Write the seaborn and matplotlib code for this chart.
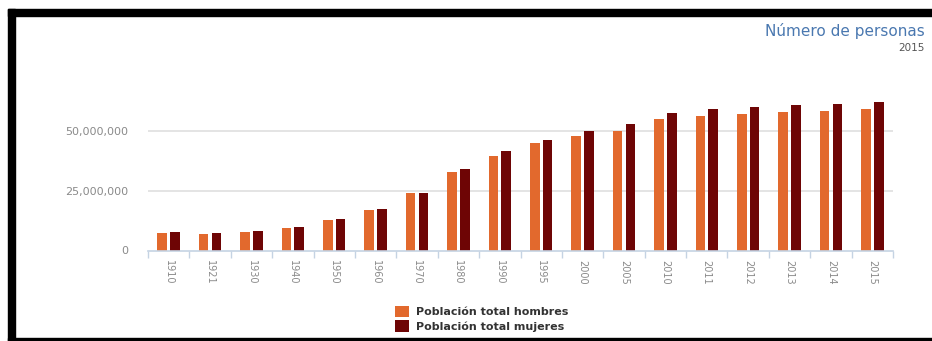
import matplotlib
matplotlib.use("Agg")
import matplotlib.pyplot as plt
from matplotlib.patches import Rectangle
from matplotlib.ticker import FixedLocator, FuncFormatter
import seaborn as sns
import pandas as pd

# ---- data ----
years = ["1910", "1921", "1930", "1940", "1950", "1960", "1970", "1980", "1990",
         "1995", "2000", "2005", "2010", "2011", "2012", "2013", "2014", "2015"]
hombres = [7_400_000, 6_800_000, 7_700_000, 9_500_000, 12_600_000, 17_000_000,
           23_800_000, 32_600_000, 39_500_000, 44_800_000, 47_600_000, 49_900_000,
           54_800_000, 56_200_000, 57_000_000, 57_600_000, 58_300_000, 59_000_000]
mujeres = [7_600_000, 7_200_000, 8_100_000, 9_900_000, 13_000_000, 17_400_000,
           24_000_000, 33_800_000, 41_500_000, 46_200_000, 49_700_000, 52_800_000,
           57_400_000, 59_000_000, 59_700_000, 60_500_000, 61_200_000, 61_700_000]
series_names = ["Población total hombres", "Población total mujeres"]
y_ticks = [0, 25_000_000, 50_000_000]
title_text = "Número de personas"
subtitle_text = "2015"

df = pd.DataFrame({
    "año": years * 2,
    "valor": hombres + mujeres,
    "serie": [series_names[0]] * len(years) + [series_names[1]] * len(years),
})

sns.set_theme(style="white")
plt.rcParams["font.family"] = ["DejaVu Sans"]

W, H = 932, 341
fig = plt.figure(figsize=(W / 100, H / 100), dpi=100)
ax = fig.add_axes([148 / W, 1 - 250.5 / H, (893 - 148) / W, (250.5 - 82.5) / H])

palette = {series_names[0]: "#E2692D", series_names[1]: "#6E0505"}
sns.barplot(data=df, x="año", y="valor", hue="serie", order=years,
            hue_order=series_names, palette=palette, width=0.62, gap=0.25,
            saturation=1, ax=ax, legend=True, linewidth=0)

ax.set_ylim(0, 70_000_000)
ax.set_xlim(-0.5, len(years) - 0.5)
ax.set_xlabel("")
ax.set_ylabel("")

# grid & spines
ax.yaxis.set_major_locator(FixedLocator(y_ticks))
ax.yaxis.set_major_formatter(FuncFormatter(lambda v, p: f"{int(v):,}"))
for yv in y_ticks[1:]:
    ax.axhline(yv, color="#e2e2e2", lw=1.3, zorder=0)
for s in ["top", "right", "left"]:
    ax.spines[s].set_visible(False)
ax.spines["bottom"].set_color("#c5d3e3")
ax.spines["bottom"].set_linewidth(1.2)

ax.tick_params(axis="y", length=0, pad=14, labelsize=8, labelcolor="#8a8a8a")
ax.tick_params(axis="x", which="major", length=0, pad=7, labelsize=7,
               labelcolor="#8a8a8a", labelrotation=-90)
ax.set_xticks([i - 0.5 for i in range(len(years) + 1)], minor=True)
ax.tick_params(axis="x", which="minor", length=5, width=1, color="#c5d3e3",
               direction="out", bottom=True)
for lbl in ax.get_xticklabels():
    lbl.set_verticalalignment("top")

# legend
handles, labels = ax.get_legend_handles_labels()
ax.get_legend().remove()
fig.legend(handles, labels, loc="upper left",
           bbox_to_anchor=(389 / W, 1 - 300 / H), bbox_transform=fig.transFigure,
           frameon=False, handlelength=1.3, handleheight=1.2, handletextpad=0.6,
           labelspacing=0.3, borderpad=0,
           prop={"size": 8, "weight": "bold"}, labelcolor="#333333")

# titles
fig.text(925 / W, 1 - 31 / H, title_text, ha="right", va="center",
         fontsize=11, color="#4a78b0")
fig.text(925 / W, 1 - 48 / H, subtitle_text, ha="right", va="center",
         fontsize=7.5, color="#555555")

# black frame around the picture
def frect(x0, y0, x1, y1):
    fig.patches.append(Rectangle((x0 / W, 1 - y1 / H), (x1 - x0) / W, (y1 - y0) / H,
                                 transform=fig.transFigure, color="black",
                                 zorder=10))
frect(8, 9, W, 16)
frect(8, 9, 15, H)
frect(8, 338, W, H)

fig.savefig("out.png", dpi=100)
